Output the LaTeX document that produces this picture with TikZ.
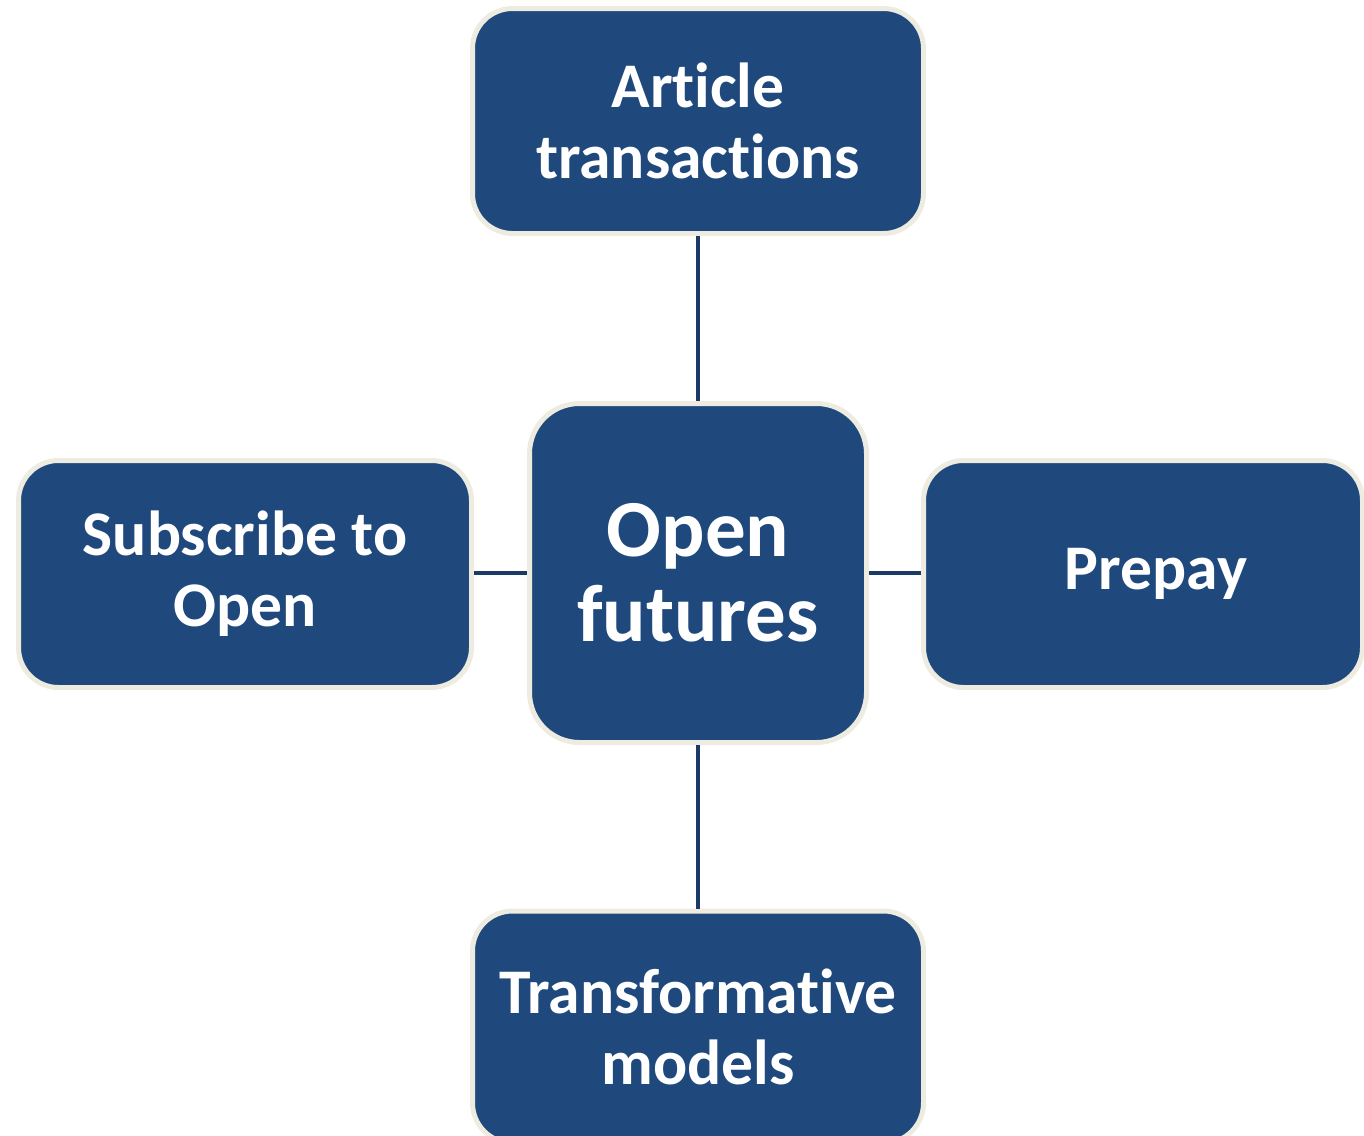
\documentclass[tikz,border=0pt]{standalone}
\usepackage{fontspec}
\setmainfont[Ligatures=NoCommon]{Carlito}
\definecolor{boxblue}{HTML}{1F497D}
\definecolor{boxrim}{HTML}{EEECE1}
\definecolor{linkblue}{HTML}{1B3A66}
\begin{document}
\begin{tikzpicture}[x=0.5pt, y=-0.5pt,
    model/.style={rectangle, rounded corners=20pt, draw=boxrim, line width=2.5pt,
      fill=boxblue, text=white, align=center, inner sep=0pt,
      font=\fontsize{31.8}{35.5}\selectfont\bfseries},
    hub/.style={model, rounded corners=25pt, font=\fontsize{40.5}{42.5}\selectfont\bfseries},
    link/.style={draw=linkblue, line width=2pt}]
  \useasboundingbox (0,0) rectangle (1364,1135);
  \clip (0,0) rectangle (1364,1135);

  \node[hub, minimum width=168.5pt, minimum height=169.5pt] (futures) at (698,573) {Open\\futures};

  \node[model, minimum width=225.5pt, minimum height=112.5pt] (article) at (698,121) {Article\\transactions};
  \node[model, minimum width=226.5pt, minimum height=113.5pt] (subscribe) at (245,574) {Subscribe to\\Open};
  \node[model, minimum width=219.5pt, minimum height=113.5pt] (prepay) at (1143,574) {\hspace*{13pt}Prepay};
  \node[model, minimum width=225.5pt, minimum height=116pt] (transform) at (698,1027) {Transformative\\models};

  \draw[link] (article) -- (futures);
  \draw[link] (futures) -- (transform);
  \draw[link] (subscribe.east |- futures) -- (futures);
  \draw[link] (futures) -- (prepay.west |- futures);
\end{tikzpicture}
\end{document}
